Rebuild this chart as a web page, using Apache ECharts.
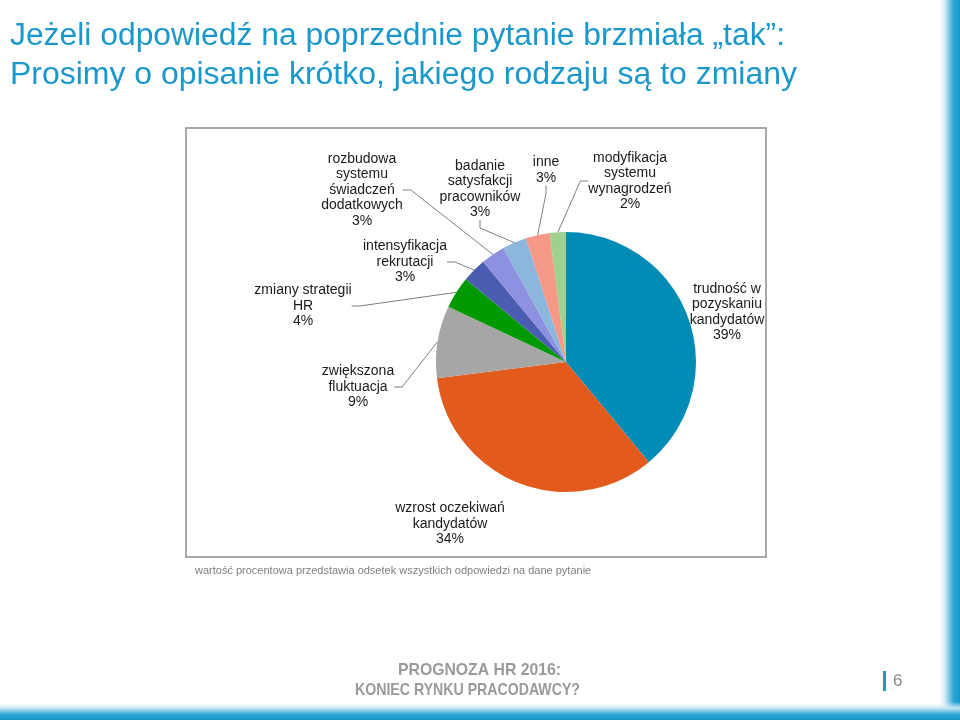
<!DOCTYPE html>
<html>
<head>
<meta charset="utf-8">
<script src="https://cdn.jsdelivr.net/npm/echarts@6/dist/echarts.min.js"></script>
<style>
html,body{margin:0;padding:0;background:#fff;}
#main{width:960px;height:720px;}
</style>
</head>
<body>
<div id="main"></div>
<script>
const categories = [
  'trudność w\npozyskaniu\nkandydatów',
  'wzrost oczekiwań\nkandydatów',
  'zwiększona\nfluktuacja',
  'zmiany strategii\nHR',
  'intensyfikacja\nrekrutacji',
  'rozbudowa\nsystemu\nświadczeń\ndodatkowych',
  'badanie\nsatysfakcji\npracowników',
  'inne',
  'modyfikacja\nsystemu\nwynagrodzeń'
];
const values = [39, 34, 9, 4, 3, 3, 3, 3, 2];
const sliceColors = ['#008cb4', '#e25a1c', '#a6a6a6', '#009a00', '#4a5db0', '#8e90e0', '#8cb6dc', '#f69887', '#9fd18e'];
const showLine = [false, false, true, true, true, true, true, true, true];

const titleLines = [
  'Jeżeli odpowiedź na poprzednie pytanie brzmiała „tak”:',
  'Prosimy o opisanie krótko, jakiego rodzaju są to zmiany'
];
const footnote = 'wartość procentowa przedstawia odsetek wszystkich odpowiedzi na dane pytanie';
const footerLines = ['PROGNOZA HR 2016:', 'KONIEC RYNKU PRACODAWCY?'];
const pageNumber = '6';

// label placement (centres), layout only
const labelCenters = [[727,312],[450,524],[358,387],[303,306],[405,262],[362,190],[480,189],[546,170],[630,181]];

const ctx = document.createElement('canvas').getContext('2d');
function fit(text, font, target) {
  ctx.font = font;
  return target / ctx.measureText(text).width;
}

const titleFont = '31px "Liberation Sans", Arial, sans-serif';
const footFont = 'bold 17px "Liberation Sans", Arial, sans-serif';

const chart = echarts.init(document.getElementById('main'));
const option = {
  backgroundColor: '#ffffff',
  animation: false,
  graphic: [
    { type: 'rect', z: 0, shape: { x: 186, y: 128, width: 580, height: 429 },
      style: { fill: '#ffffff', stroke: '#8c8c8c', lineWidth: 1.5 } },
    { type: 'text', x: 10, y: 36, scaleX: fit(titleLines[0], titleFont, 775),
      style: { text: titleLines[0], font: titleFont, fill: '#1a98cb', textVerticalAlign: 'middle' } },
    { type: 'text', x: 10, y: 75, scaleX: fit(titleLines[1], titleFont, 787),
      style: { text: titleLines[1], font: titleFont, fill: '#1a98cb', textVerticalAlign: 'middle' } },
    { type: 'text', x: 195, y: 571,
      style: { text: footnote, font: '11px "Liberation Sans", Arial, sans-serif', fill: '#7f7f7f', textVerticalAlign: 'middle' } },
    { type: 'text', x: 398, y: 670, scaleX: fit(footerLines[0], footFont, 163),
      style: { text: footerLines[0], font: footFont, fill: '#9a9a9a', textVerticalAlign: 'middle' } },
    { type: 'text', x: 355, y: 690, scaleX: fit(footerLines[1], footFont, 225),
      style: { text: footerLines[1], font: footFont, fill: '#9a9a9a', textVerticalAlign: 'middle' } },
    { type: 'rect', shape: { x: 883, y: 671, width: 3, height: 20 }, style: { fill: '#1c9bcf' } },
    { type: 'text', x: 893, y: 681,
      style: { text: pageNumber, font: '17px "Liberation Sans", Arial, sans-serif', fill: '#8a8a8a', textVerticalAlign: 'middle' } },
    { type: 'rect', shape: { x: 938, y: 0, width: 22, height: 720 },
      style: { fill: new echarts.graphic.LinearGradient(0, 0, 1, 0, [
        { offset: 0, color: 'rgba(255,255,255,0)' },
        { offset: 0.35, color: '#bfe3f1' },
        { offset: 0.7, color: '#2fa6d6' },
        { offset: 1, color: '#1596c9' }]) } },
    { type: 'rect', shape: { x: 0, y: 702, width: 960, height: 18 },
      style: { fill: new echarts.graphic.LinearGradient(0, 0, 0, 1, [
        { offset: 0, color: 'rgba(255,255,255,0)' },
        { offset: 0.35, color: '#bfe3f1' },
        { offset: 0.7, color: '#2fa6d6' },
        { offset: 1, color: '#1596c9' }]) } }
  ],
  series: [{
    type: 'pie',
    center: [566, 362],
    radius: 130,
    startAngle: 90,
    clockwise: true,
    avoidLabelOverlap: false,
    itemStyle: { borderWidth: 0 },
    label: {
      show: true,
      position: 'outside',
      formatter: p => p.name + '\n' + p.value + '%',
      color: '#1a1a1a',
      fontSize: 14,
      lineHeight: 15.5,
      fontFamily: '"Liberation Sans", Arial, sans-serif',
      align: 'center'
    },
    labelLine: { show: true, length: 8, length2: 8, smooth: false,
      lineStyle: { color: '#7f7f7f', width: 1 } },
    labelLayout: function (p) {
      const c = labelCenters[p.dataIndex];
      return { x: c[0], y: c[1], align: 'center', verticalAlign: 'middle' };
    },
    emphasis: { disabled: true },
    data: categories.map((n, i) => ({
      name: n, value: values[i],
      itemStyle: { color: sliceColors[i] },
      labelLine: { show: showLine[i] }
    }))
  }]
};
chart.setOption(option);
</script>
</body>
</html>
